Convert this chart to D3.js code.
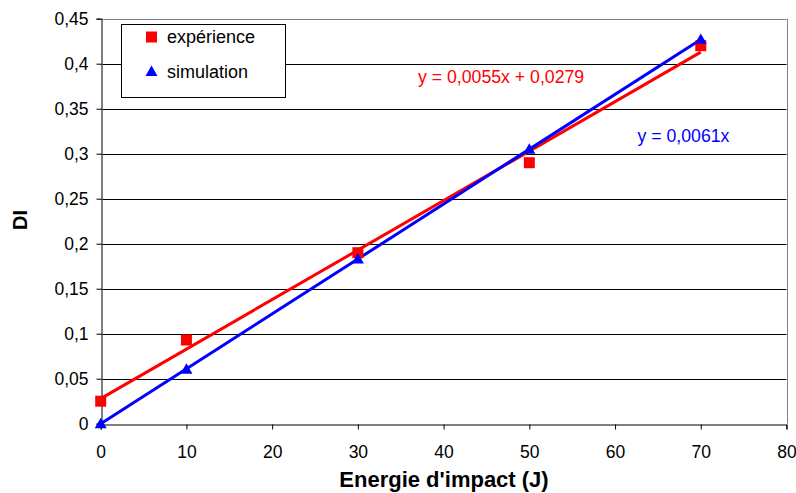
<!DOCTYPE html>
<html><head><meta charset="utf-8">
<script src="https://cdn.jsdelivr.net/npm/d3@7"></script>
<style>body{margin:0;background:#fff;}svg{display:block;font-family:"Liberation Sans",Arial,sans-serif;}</style>
</head><body>
<svg id="c" width="796" height="493"></svg>
<script>
const energie = [0, 10, 30, 50, 70];
const experience = [0.025, 0.093, 0.19, 0.29, 0.42];
const simulation = [0, 0.0605, 0.183, 0.305, 0.427];
const trendExp = [0.0055, 0.0279];   // slope, intercept
const trendSim = [0.0061, 0];
const xTicks = [0, 10, 20, 30, 40, 50, 60, 70, 80];
const yTicks = [0, 0.05, 0.1, 0.15, 0.2, 0.25, 0.3, 0.35, 0.4, 0.45];
const seriesNames = ["expérience", "simulation"];
const eqLabels = ["y = 0,0055x + 0,0279", "y = 0,0061x"];

const FONT = "'Liberation Sans', Arial, sans-serif";
const svg = d3.select("#c");
const x = d3.scaleLinear().domain([0, 80]).range([100.7, 786.5]);
const y = d3.scaleLinear().domain([0, 0.45]).range([423.7, 18.7]);
const fmt = d => String(d).replace(".", ",");

// gridlines
svg.append("g").selectAll("line").data(yTicks.slice(1)).join("line")
  .attr("x1", x(0)).attr("x2", x(80))
  .attr("y1", d => Math.round(y(d)) + 0.5).attr("y2", d => Math.round(y(d)) + 0.5)
  .attr("stroke", (d, i) => i === yTicks.length - 2 ? "#808080" : "#000").attr("stroke-width", 1);
// right border
svg.append("line").attr("x1", Math.round(x(80)) + 0.5).attr("x2", Math.round(x(80)) + 0.5)
  .attr("y1", y(0.45)).attr("y2", y(0)).attr("stroke", "#808080");

// axes
const xAxis = d3.axisBottom(x).tickValues(xTicks).tickSize(5).tickPadding(16).tickFormat(fmt);
const gx = svg.append("g").attr("transform", `translate(0,${Math.round(y(0)) + 0.5})`).call(xAxis);
gx.attr("font-family", FONT);
gx.select(".domain").attr("stroke", "#000");
gx.selectAll(".tick line").attr("stroke", "#000");
gx.selectAll("text").attr("font-size", 17.5).attr("fill", "#000");

const yAxis = d3.axisLeft(y).tickValues(yTicks).tickSize(5).tickPadding(8).tickFormat(fmt);
const gy = svg.append("g").attr("transform", `translate(${Math.round(x(0)) + 0.5},0)`).call(yAxis);
gy.attr("font-family", FONT);
gy.select(".domain").attr("stroke", "#555").attr("stroke-width", 1.5);
gy.selectAll(".tick line").attr("stroke", "#000");
gy.selectAll("text").attr("font-size", 17.5).attr("fill", "#000");

// trendlines
const trends = [[trendExp, "#ff0000"], [trendSim, "#0000ff"]];
trends.forEach(([t, col]) => {
  const x0 = energie[0], x1 = energie[energie.length - 1];
  svg.append("line")
    .attr("x1", x(x0)).attr("y1", y(t[0] * x0 + t[1]))
    .attr("x2", x(x1)).attr("y2", y(t[0] * x1 + t[1]))
    .attr("stroke", col).attr("stroke-width", 3);
});

// markers
svg.append("g").selectAll("rect").data(energie).join("rect")
  .attr("x", (d) => x(d) - 5.5).attr("y", (d, i) => y(experience[i]) - 5.5)
  .attr("width", 11).attr("height", 11).attr("fill", "#ff0000");
const tri = d3.symbol().type(d3.symbolTriangle).size(62);
svg.append("g").selectAll("path").data(energie).join("path")
  .attr("d", tri).attr("transform", (d, i) => `translate(${x(d)},${y(simulation[i]) + 1})`)
  .attr("fill", "#0000ff");

// equations
svg.append("text").attr("x", 418).attr("y", 83).attr("font-size", 17.7).attr("fill", "#ff0000").text(eqLabels[0]);
svg.append("text").attr("x", 637.5).attr("y", 141.5).attr("font-size", 17.7).attr("fill", "#0000ff").text(eqLabels[1]);

// legend
const lg = svg.append("g");
lg.append("rect").attr("x", 121.5).attr("y", 24.5).attr("width", 164).attr("height", 73)
  .attr("fill", "#fff").attr("stroke", "#000");
lg.append("rect").attr("x", 146).attr("y", 31.5).attr("width", 11).attr("height", 11).attr("fill", "#ff0000");
lg.append("path").attr("d", tri).attr("transform", "translate(151.5,72.5)").attr("fill", "#0000ff");
lg.append("text").attr("x", 167).attr("y", 43).attr("font-size", 18).text(seriesNames[0]);
lg.append("text").attr("x", 167).attr("y", 77.5).attr("font-size", 18).text(seriesNames[1]);

// titles
svg.append("text").attr("x", 444).attr("y", 487).attr("text-anchor", "middle")
  .attr("font-size", 22).attr("font-weight", "bold").text("Energie d'impact (J)");
svg.append("text").attr("transform", "translate(26.5,220) rotate(-90)").attr("text-anchor", "middle")
  .attr("font-size", 20).attr("font-weight", "bold").text("DI");
</script>
</body></html>
